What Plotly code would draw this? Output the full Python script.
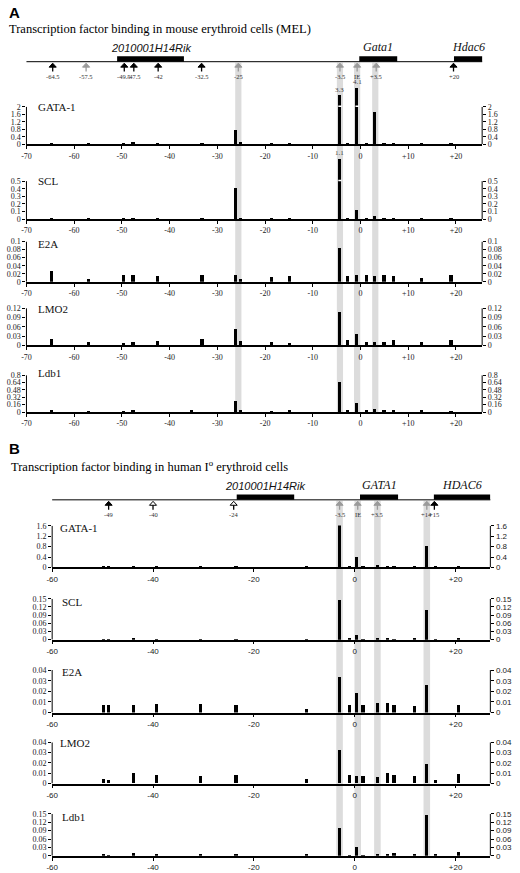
import plotly.graph_objects as go
import numpy as np

W, H = 520, 873
def px(x): return x / W
def py(y): return 1 - y / H

# ---------------- data ----------------
posA = [-64.6, -56.9, -49.6, -47.6, -42.4, -35.3, -33.1, -26.1, -25.1, -18.6, -14.8,
        -4.3, -2.6, -0.7, 1.3, 3.1, 5.0, 7.0, 12.9, 19.1]
gataA = [0.05, 0.04, 0.05, 0.12, 0.06, 0, 0.09, 0.75, 0.12, 0.04, 0.03,
         3.3, 0.06, 4.1, 0.07, 1.75, 0.06, 0.05, 0.04, 0.09]
sclA = [0.005, 0.01, 0.01, 0.01, 0.01, 0, 0.005, 0.41, 0.01, 0.01, 0.01,
        1.1, 0.015, 0.12, 0.01, 0.045, 0.02, 0.01, 0.01, 0.01]
e2aA = [0.027, 0.008, 0.018, 0.017, 0.016, 0, 0.018, 0.019, 0.009, 0.014, 0.016,
        0.085, 0.016, 0.018, 0.017, 0.015, 0.018, 0.016, 0.011, 0.018]
lmo2A = [0.02, 0.01, 0.007, 0.01, 0.015, 0, 0.019, 0.052, 0.015, 0.01, 0.007,
         0.107, 0.016, 0.036, 0.012, 0.012, 0.012, 0.016, 0.01, 0.017]
ldb1A = [0.02, 0.005, 0.01, 0.02, 0, 0.03, 0, 0.24, 0.04, 0.01, 0.02,
         0.65, 0.03, 0.2, 0.02, 0.06, 0.03, 0.02, 0.025, 0.01]

posB = [-49.8, -48.8, -43.9, -39.3, -30.6, -23.5, -9.5, -3.0, -1.0, 0.4, 1.7,
        4.5, 6.5, 7.8, 11.9, 14.3, 16.1, 20.6]
gataB = [0.02, 0.03, 0.02, 0.02, 0.01, 0.01, 0.02, 1.6, 0.02, 0.37, 0.02,
         0.05, 0.02, 0.02, 0.02, 0.8, 0.02, 0.02]
sclB = [0.002, 0.002, 0.005, 0.003, 0.002, 0.001, 0.002, 0.145, 0.005, 0.017, 0.001,
        0.004, 0.005, 0.003, 0.004, 0.11, 0.001, 0.005]
e2aB = [0.007, 0.007, 0.007, 0.008, 0.0085, 0.007, 0.003, 0.033, 0.007, 0.018, 0.0075,
        0.009, 0.009, 0.0075, 0.006, 0.026, 0, 0.0075]
lmo2B = [0.004, 0.0035, 0.01, 0.008, 0.007, 0.008, 0.004, 0.032, 0.008, 0.007, 0.007,
         0.006, 0.01, 0.008, 0.007, 0.019, 0.003, 0.009]
ldb1B = [0.004, 0.003, 0.01, 0.006, 0.006, 0.005, 0.004, 0.1, 0.003, 0.033, 0.003,
         0.008, 0.004, 0.011, 0.006, 0.146, 0.004, 0.015]

factors = ["GATA-1", "SCL", "E2A", "LMO2", "Ldb1"]
capsA = [2, 0.5, 0.1, 0.12, 0.8]
ticksA = [[0, 0.4, 0.8, 1.2, 1.6, 2], [0, 0.1, 0.2, 0.3, 0.4, 0.5],
          [0, 0.02, 0.04, 0.06, 0.08, 0.1], [0, 0.03, 0.06, 0.09, 0.12],
          [0, 0.16, 0.32, 0.48, 0.64, 0.8]]
capsB = [1.6, 0.15, 0.04, 0.04, 0.15]
ticksB = [[0, 0.4, 0.8, 1.2, 1.6], [0, 0.03, 0.06, 0.09, 0.12, 0.15],
          [0, 0.01, 0.02, 0.03, 0.04], [0, 0.01, 0.02, 0.03, 0.04],
          [0, 0.03, 0.06, 0.09, 0.12, 0.15]]

xticksA = [-70, -60, -50, -40, -30, -20, -10, 0, 10, 20]
xlabA = ["-70", "-60", "-50", "-40", "-30", "-20", "-10", "0", "+10", "+20"]
xticksB = [-60, -40, -20, 0, 20]
xlabB = ["-60", "-40", "-20", "0", "+20"]

arrowsA = [(-64.5, "-64.5", "k"), (-57.5, "-57.5", "g"), (-49.5, "-49.5", "k"),
           (-47.5, "-47.5", "k"), (-42.4, "-42", "k"), (-33.3, "-32.5", "k"),
           (-25.6, "-25", "g"), (-4.3, "-3.5", "g"), (-0.7, "IE", "g"),
           (3.3, "+3.5", "g"), (19.5, "+20", "k")]
arrowsB = [(-48.8, "-49", "k"), (-40.0, "-40", "o"), (-24.0, "-24", "o"),
           (-3.0, "-3.5", "g"), (0.6, "IE", "g"), (4.5, "+3.5", "g"),
           (14.3, "+14", "g"), (15.8, "+15", "k")]
genesA = [(-51, -37, "2010001H14Rik"), (-0.25, 7.7, "Gata1"), (19.6, 25.8, "Hdac6")]
genesB = [(-23.4, -12, "2010001H14Rik"), (1.05, 8.6, "GATA1"), (15.7, 26.9, "HDAC6")]
shadeA = [-25.6, -4.3, -0.7, 3.1]
shadeB = [-3.0, 0.6, 4.5, 14.3]

panA = dict(x0=20.7, x1=481.7, rng=[-70, 25.5], bw=0.7,
            rows=[(104, 141.7), (179, 217.3), (240, 280.7), (307.3, 345), (375, 412.3)],
            lab=[(30, 104), (30, 179), (30, 243), (30, 308), (30, 373)],
            line=58.3, serif_x=True)
panB = dict(x0=46.7, x1=490, rng=[-60, 26.9], bw=0.65,
            rows=[(527.3, 569.3), (601, 642.3), (673, 716), (746, 787.7), (818.3, 860.7)],
            lab=[(53, 529), (55, 604), (55, 675), (53, 747), (55, 821)],
            line=501, serif_x=False)

SERIF = "Liberation Serif"
SANS = "Liberation Sans"
fig = go.Figure()
layout = dict(width=W, height=H, margin=dict(l=0, r=0, t=0, b=0), autosize=False,
              paper_bgcolor="white", plot_bgcolor="rgba(0,0,0,0)",
              showlegend=False, bargap=0)
shapes, annos = [], []

def aid(letter, k):
    return letter if k == 1 else f"{letter}{k}"

K = 0.5
panels = [(panA, posA, [gataA, sclA, e2aA, lmo2A, ldb1A], capsA, ticksA, xticksA, xlabA),
          (panB, posB, [gataB, sclB, e2aB, lmo2B, ldb1B], capsB, ticksB, xticksB, xlabB)]
n = 0
for pi, (P, pos, series, caps, ytl, xt, xl) in enumerate(panels):
    xfont = SERIF if P["serif_x"] else SANS
    for r in range(5):
        n += 1
        yt = ytl[r]
        vals = np.array(series[r], float)
        cap = caps[r]
        shown = np.where(vals > cap, cap + (vals - cap) * K, vals)
        ymax = max(cap, float(shown.max()) * 1.01)
        top, base = P["rows"][r]
        top_ext = base - (base - top) * ymax / cap
        xa, ya, yr = aid("x", n), aid("y", n), aid("y", n + 10)
        fig.add_trace(go.Bar(x=pos, y=shown, width=P["bw"], marker_color="black",
                             marker_line_width=0, xaxis=xa, yaxis=ya, hoverinfo="skip"))
        fig.add_trace(go.Scatter(x=[pos[0]], y=[0], mode="markers", marker_opacity=0,
                                 xaxis=xa, yaxis=yr, hoverinfo="skip"))
        dom_y = [py(base), py(top_ext)]
        xk = "xaxis" if n == 1 else f"xaxis{n}"
        yk = "yaxis" if n == 1 else f"yaxis{n}"
        layout[xk] = dict(domain=[px(P["x0"]), px(P["x1"])], range=P["rng"],
                          anchor=ya, tickmode="array", tickvals=xt, ticktext=xl,
                          ticks="outside", ticklen=3, tickcolor="black",
                          showline=True, linecolor="black", linewidth=1.5,
                          showgrid=False, zeroline=False,
                          tickfont=dict(family=xfont, size=8, color="#222"))
        tf = dict(family=SERIF, size=8, color="#222")
        tfr = dict(family=SERIF if pi == 0 else SANS, size=8, color="#222")
        tt = [f"{v:g}" for v in yt]
        layout[yk] = dict(domain=dom_y, range=[0, ymax], anchor=xa, tickmode="array",
                          tickvals=yt, ticktext=tt, ticks="outside", ticklen=3,
                          tickcolor="black", showline=False, showgrid=False,
                          zeroline=False, tickfont=tf)
        layout[f"yaxis{n+10}"] = dict(domain=dom_y, range=[0, ymax], anchor=xa, overlaying=ya,
                                      side="right", tickmode="array", tickvals=yt,
                                      ticktext=tt, ticks="outside", ticklen=3,
                                      tickcolor="black", showline=False,
                                      showgrid=False, zeroline=False, tickfont=tfr)
        for xe in (P["x0"], P["x1"]):
            shapes.append(dict(type="line", xref="paper", yref=ya, x0=px(xe), x1=px(xe),
                               y0=0, y1=cap, line=dict(color="black", width=1)))
        lx, ly = P["lab"][r]
        annos.append(dict(text=factors[r], x=px(lx), y=py(ly), xref="paper", yref="paper",
                          xanchor="left", yanchor="middle", showarrow=False,
                          font=dict(family=SERIF, size=11, color="#111")))
        for xv, v, s in zip(pos, vals, shown):
            if v > cap:
                shapes.append(dict(type="line", xref=xa, yref=ya, x0=xv - P["bw"] / 2,
                                   x1=xv + P["bw"] / 2, y0=cap * 1.02, y1=cap * 1.02,
                                   line=dict(color="white", width=1.5), layer="above"))
                annos.append(dict(text=f"{v:g}", x=xv, y=s, xref=xa, yref=ya,
                                  yanchor="bottom", showarrow=False, yshift=-1,
                                  font=dict(family=SERIF, size=7, color="#444")))
    xr = aid("x", n - 4)
    L = P["line"]
    shapes.append(dict(type="line", xref="paper", yref="paper", x0=px(P["x0"]), x1=px(P["x1"]),
                       y0=py(L), y1=py(L), line=dict(color="black", width=1)))
    for (g0, g1, name) in (genesA if pi == 0 else genesB):
        shapes.append(dict(type="rect", xref=xr, yref="paper", x0=g0, x1=g1,
                           y0=py(L), y1=py(L - 5.5), fillcolor="black", line_width=0))
        sans_name = name.startswith("2010")
        annos.append(dict(text=f"<i>{name}</i>", x=(g0 + g1) / 2, y=py(L - 6), xref=xr,
                          yref="paper", yanchor="bottom", showarrow=False,
                          font=dict(family=SANS if sans_name else SERIF,
                                    size=11 if sans_name else 12, color="#111")))
    lowest = P["rows"][4][1]
    for s in (shadeA if pi == 0 else shadeB):
        shapes.append(dict(type="rect", xref=xr, yref="paper", x0=s - 0.65, x1=s + 0.65,
                           y0=py(lowest), y1=py(L + 1), fillcolor="#dcdcdc", line_width=0,
                           layer="below"))
    for (a, lab, st) in (arrowsA if pi == 0 else arrowsB):
        col = {"k": "black", "g": "#9a9a9a", "o": "black"}[st]
        fill = {"k": "black", "g": "#9a9a9a", "o": "white"}[st]
        hw = 0.75 if pi == 0 else 0.7
        shapes.append(dict(type="line", xref=xr, yref="paper", x0=a, x1=a,
                           y0=py(L + 5), y1=py(L + 10), line=dict(color=col, width=1.3)))
        shapes.append(dict(type="path", xref=xr, yref="paper",
                           path=f"M {a-hw},{py(L+5.5)} L {a},{py(L+1.5)} L {a+hw},{py(L+5.5)} Z",
                           fillcolor=fill, line=dict(color=col, width=1)))
        annos.append(dict(text=lab, x=a, y=py(L + 15), xref=xr, yref="paper",
                          yanchor="middle", showarrow=False,
                          font=dict(family=SERIF, size=6.5, color="#333")))

annos += [
    dict(text="<b>A</b>", x=px(1), y=py(9), xref="paper", yref="paper", xanchor="left",
         yanchor="middle", showarrow=False, font=dict(family=SANS, size=15, color="black")),
    dict(text="Transcription factor binding in mouse erythroid cells (MEL)", x=px(1), y=py(25),
         xref="paper", yref="paper", xanchor="left", yanchor="middle", showarrow=False,
         font=dict(family=SERIF, size=12.5, color="black")),
    dict(text="<b>B</b>", x=px(1), y=py(449), xref="paper", yref="paper", xanchor="left",
         yanchor="middle", showarrow=False, font=dict(family=SANS, size=15, color="black")),
    dict(text="Transcription factor binding in human I<sup>o</sup> erythroid cells", x=px(3),
         y=py(467), xref="paper", yref="paper", xanchor="left", yanchor="middle",
         showarrow=False, font=dict(family=SERIF, size=12.5, color="black")),
]
layout["shapes"] = shapes
layout["annotations"] = annos
fig.update_layout(**layout)
fig.write_html("out.html", config={"displayModeBar": False},
               post_script="document.body.style.margin='0';document.body.style.overflow='hidden';window.dispatchEvent(new Event('resize'));")
